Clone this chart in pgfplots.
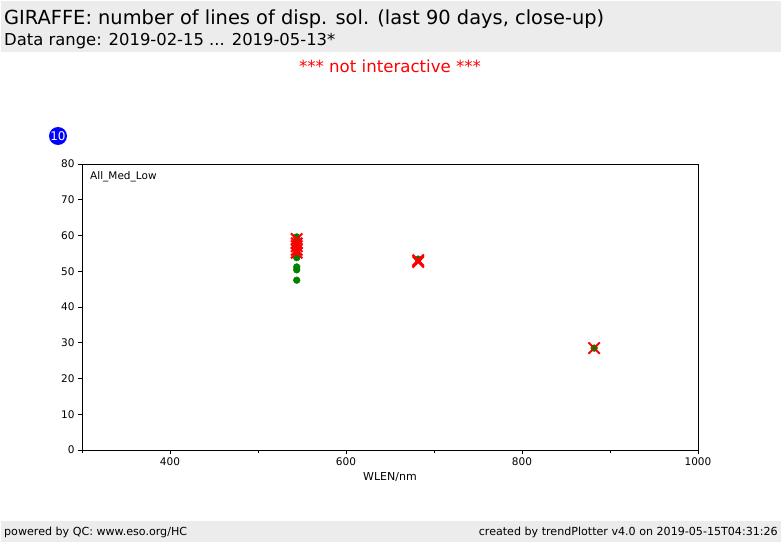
\documentclass[border=0pt]{standalone}
\usepackage{fontspec}
\setmainfont{DejaVu Sans}
\usepackage{pgfplots}
\pgfplotsset{compat=1.18}
\definecolor{band}{HTML}{ECECEC}
\definecolor{mgreen}{HTML}{008000}
\begin{document}
\begin{tikzpicture}[x=1pt,y=1pt]
\useasboundingbox (0,0) rectangle (782,542);
\fill[white] (0,0) rectangle (782,542);
\fill[band] (1,490) rectangle (781,541);
\fill[band] (1,0) rectangle (781,21);
\node[anchor=base west,inner sep=0pt,font=\fontsize{19.4}{21}\selectfont] at (4,517) {GIRAFFE: number of lines of disp. sol. (last 90 days, close-up)};
\node[anchor=base west,inner sep=0pt,font=\fontsize{16.4}{18}\selectfont] at (4,496) {Data range: 2019-02-15 ... 2019-05-13*};
\node[anchor=base,inner sep=0pt,text=red,font=\fontsize{16.6}{18}\selectfont] at (390,469) {*** not interactive ***};
\fill[blue] (58,406) circle (9);
\node[text=white,inner sep=0pt,font=\fontsize{12}{13}\selectfont] at (58,406) {10};
\node[anchor=base west,inner sep=0pt,font=\fontsize{11.1}{12}\selectfont] at (4,6.5) {powered by QC: www.eso.org/HC};
\node[anchor=base east,inner sep=0pt,font=\fontsize{11.1}{12}\selectfont] at (778,6.5) {created by trendPlotter v4.0 on 2019-05-15T04:31:26};
\begin{axis}[
  at={(82pt,92pt)}, anchor=south west,
  scale only axis, width=616pt, height=286pt,
  xmin=300, xmax=1000, ymin=0, ymax=80,
  xtick={400,600,800,1000},
  minor xtick={300,500,700,900},
  ytick={0,10,...,80},
  tick align=outside, tick pos=left,
  major tick length=4pt, minor tick length=2.5pt,
  tick style={black,line width=0.6pt},
  axis line style={line width=0.8pt},
  ticklabel style={font=\fontsize{10.5}{12}\selectfont},
  /pgf/number format/assume math mode=true,
  /pgf/number format/1000 sep={},
  xlabel={WLEN/nm},
  xlabel style={font=\fontsize{11}{12}\selectfont, yshift=0pt},
  clip=false,
]
\node[anchor=west,inner sep=0pt,font=\fontsize{10.5}{12}\selectfont] at (rel axis cs:0.013,0.955) {All\_Med\_Low};
\addplot[only marks, mark=*, mark size=3.4pt, mgreen, mark options={draw=mgreen,fill=mgreen}] coordinates {
(544,59.6) (544,58.6) (544,57.6) (544,56.8) (544,55.8) (544,54.8)
(544,53.8) (544,51.2) (544,50.4) (544,47.5)
(682,53.4) (882,28.5)
};
\addplot[only marks, mark=x, mark size=8pt, red, line width=2pt] coordinates {
(544,59.0) (544,57.8) (544,57.0) (544,56.0) (544,55.2)
(682,52.6) (682,53.1) (882,28.5)
};
\addplot[only marks, mark=*, mark size=1.8pt, mgreen, mark options={draw=mgreen,fill=mgreen}] coordinates {(882,28.5)};
\end{axis}
\end{tikzpicture}
\end{document}
